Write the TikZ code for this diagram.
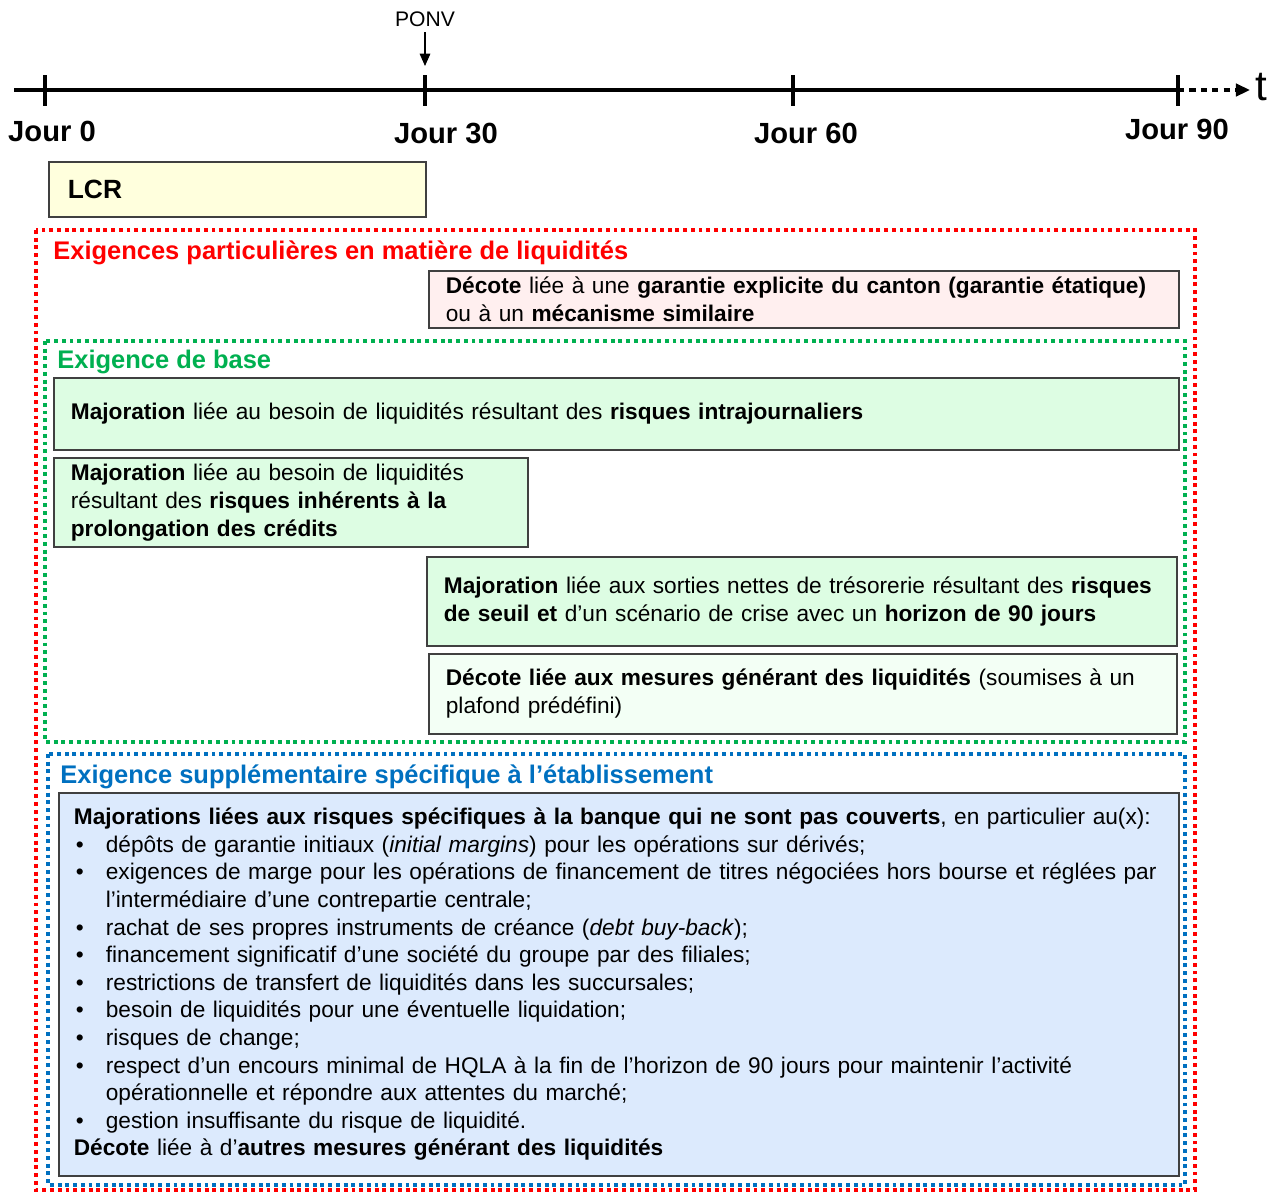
\documentclass[tikz,border=0pt]{standalone}
\usepackage{fontspec}
\setmainfont{Liberation Sans}
\usetikzlibrary{arrows.meta,positioning}

\definecolor{exred}{HTML}{FF0000}
\definecolor{exgreen}{HTML}{00B050}
\definecolor{exblue}{HTML}{0070C0}
\definecolor{lcrfill}{HTML}{FFFFDD}
\definecolor{pinkfill}{HTML}{FFEFEF}
\definecolor{greenfill}{HTML}{DDFDE3}
\definecolor{palefill}{HTML}{F3FFF5}
\definecolor{bluefill}{HTML}{DCEAFD}
\definecolor{boxline}{HTML}{404040}

\tikzset{
  reqbox/.style={draw=boxline, line width=1pt, anchor=north west, inner xsep=0.34cm,
    inner ysep=0pt, align=left, font=\fontsize{12.9}{15.8}\selectfont},
  frame/.style={line width=2.2pt, dash pattern=on 2.2pt off 2.2pt},
  tick/.style={line width=2.4pt},
  jour/.style={font=\fontsize{16.6}{18}\selectfont\bfseries, anchor=base},
  title/.style={font=\fontsize{14.5}{16}\selectfont\bfseries, anchor=base west, inner sep=0pt},
}
\newcommand{\bul}{\makebox[0.64cm][l]{\hspace{0.04cm}\textbullet}}
\newcommand{\cont}{\hspace*{0.64cm}}

\begin{document}
\begin{tikzpicture}[x=0.02cm, y=-0.02cm]
    \useasboundingbox (0,0) rectangle (1278,1191);

    % time axis
    \coordinate (tstart) at (14,90);
    \coordinate (j0) at (45,90);
    \coordinate (j30) at (425,90);
    \coordinate (j60) at (793,90);
    \coordinate (j90) at (1178,90);
    \coordinate (tend) at (1250,90);
    \draw[tick] (tstart) -- (j90);
    \draw[tick, dash pattern=on 3.5pt off 3pt, -{Triangle[length=8pt,width=7pt]}] (j90) -- (tend);
    \foreach \j in {j0,j30,j60,j90}
        \draw[tick] (\j) ++(0,-15) -- ++(0,31);
    \node[font=\fontsize{24}{26}\selectfont, anchor=base] (t) at (1261,100) {t};

    \node[jour] (l0) at (52,141) {Jour 0};
    \node[jour] (l30) at (446,143) {Jour 30};
    \node[jour] (l60) at (806,143) {Jour 60};
    \node[jour] (l90) at (1177,139) {Jour 90};

    \node[font=\fontsize{12}{14}\selectfont, anchor=base] (ponv) at (425,26) {PONV};
    \coordinate (ponvtip) at (425,66);
    \draw[line width=0.7pt, -{Triangle[length=7pt,width=6pt]}] (ponv.south) -- (ponvtip);

    % LCR
    \node[reqbox, fill=lcrfill, inner xsep=0.38cm, minimum width=7.54cm, minimum height=1.10cm,
        text width=6.78cm, font=\fontsize{15}{17}\selectfont\bfseries] (lcr) at (48,161) {LCR};

    % frames
    \draw[frame, exred] (36,230) rectangle (1195,1190);
    \draw[frame, exgreen] (45,341) rectangle (1185,742);
    \draw[frame, exblue] (48,754) rectangle (1185,1185);

    \node[title, text=exred] (redtitle) at (53,259) {Exigences particulières en matière de liquidités};
    \node[title, text=exgreen] (greentitle) at (57,368) {Exigence de base};
    \node[title, text=exblue] (bluetitle) at (60,783) {Exigence supplémentaire spécifique à l’établissement};

    % boxes
    \node[reqbox, fill=pinkfill, minimum width=15cm, minimum height=1.14cm, text width=14.32cm] (canton) at (428,270)
        {\textbf{Décote} liée à une \textbf{garantie explicite du canton (garantie étatique)}\\
         ou à un \textbf{mécanisme similaire}};
    \node[reqbox, fill=greenfill, minimum width=22.5cm, minimum height=1.44cm, text width=21.82cm] (intraday) at (53,377)
        {\textbf{Majoration} liée au besoin de liquidités résultant des \textbf{risques intrajournaliers}};
    \node[reqbox, fill=greenfill, minimum width=9.48cm, minimum height=1.78cm, text width=8.80cm] (credits) at (53,457)
        {\textbf{Majoration} liée au besoin de liquidités\\
         résultant des \textbf{risques inhérents à la}\\
         \textbf{prolongation des crédits}};
    \node[reqbox, fill=greenfill, minimum width=15cm, minimum height=1.78cm, text width=14.32cm] (seuil) at (426,556)
        {\textbf{Majoration} liée aux sorties nettes de trésorerie résultant des \textbf{risques}\\
         \textbf{de seuil et} d’un scénario de crise avec un \textbf{horizon de 90 jours}};
    \node[reqbox, fill=palefill, minimum width=14.96cm, minimum height=1.60cm, text width=14.28cm] (mesures) at (428,653)
        {\textbf{Décote liée aux mesures générant des liquidités} (soumises à un\\
         plafond prédéfini)};
    \node[reqbox, fill=bluefill, inner xsep=0.30cm, minimum width=22.4cm, minimum height=7.66cm, text width=21.8cm,
        font=\fontsize{12.9}{15.7}\selectfont] (specific) at (58,792)
        {\textbf{Majorations liées aux risques spécifiques à la banque qui ne sont pas couverts}, en particulier au(x):\\
         \bul dépôts de garantie initiaux (\textit{initial margins}) pour les opérations sur dérivés;\\
         \bul exigences de marge pour les opérations de financement de titres négociées hors bourse et réglées par\\
         \cont l’intermédiaire d’une contrepartie centrale;\\
         \bul rachat de ses propres instruments de créance (\textit{debt buy-back});\\
         \bul financement significatif d’une société du groupe par des filiales;\\
         \bul restrictions de transfert de liquidités dans les succursales;\\
         \bul besoin de liquidités pour une éventuelle liquidation;\\
         \bul risques de change;\\
         \bul respect d’un encours minimal de HQLA à la fin de l’horizon de 90 jours pour maintenir l’activité\\
         \cont opérationnelle et répondre aux attentes du marché;\\
         \bul gestion insuffisante du risque de liquidité.\\
         \textbf{Décote} liée à d’\textbf{autres mesures générant des liquidités}};
\end{tikzpicture}
\end{document}
